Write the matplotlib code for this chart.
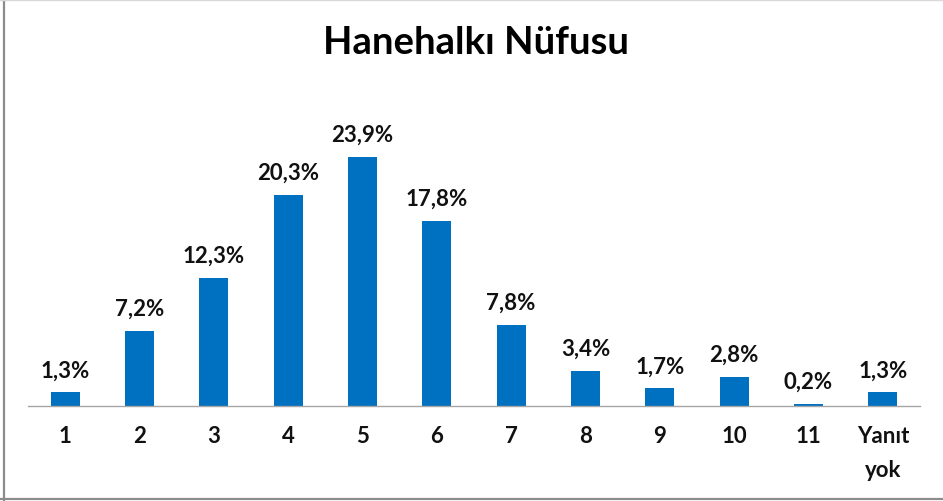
import matplotlib
matplotlib.use('Agg')
import matplotlib.pyplot as plt
from matplotlib.lines import Line2D

# data
categories = ['1', '2', '3', '4', '5', '6', '7', '8', '9', '10', '11', 'Yanıt\nyok']
shares = [1.3, 7.2, 12.3, 20.3, 23.9, 17.8, 7.8, 3.4, 1.7, 2.8, 0.2, 1.3]
labels = ['1,3%', '7,2%', '12,3%', '20,3%', '23,9%', '17,8%', '7,8%', '3,4%',
          '1,7%', '2,8%', '0,2%', '1,3%']
title = 'Hanehalkı Nüfusu'

plt.rcParams['font.family'] = ['Lato', 'DejaVu Sans']

W, H = 943, 502
fig = plt.figure(figsize=(W / 100, H / 100), dpi=100)
ax = fig.add_axes([28 / W, 95 / H, 892 / W, 307 / H])

x = list(range(len(categories)))
ax.bar(x, shares, width=0.39, color='#0070C0')

for xi, v, lab in zip(x, shares, labels):
    ax.annotate(lab, (xi, v), xytext=(0, 11.5), textcoords='offset points',
                ha='center', va='baseline', fontsize=16, fontweight='bold',
                color='#111111')

ax.set_xlim(-0.5, len(categories) - 0.5)
ax.set_ylim(0, 29.47)
ax.set_xticks(x)
ax.set_xticklabels(categories, fontsize=16, fontweight='bold', color='#111111',
                   linespacing=1.75)
ax.tick_params(axis='x', length=0, pad=14)
ax.set_yticks([])
for side in ['top', 'right', 'left']:
    ax.spines[side].set_visible(False)
ax.spines['bottom'].set_color('#a6a6a6')
ax.spines['bottom'].set_linewidth(1.0)

fig.text(476 / W, 1 - 43 / H, title, ha='center', va='center',
         fontsize=27.5, fontweight='bold', color='#000000')

# chart frame (left, bottom, top edges visible in the reference)
fig.add_artist(Line2D([3.5 / W, 3.5 / W], [0, 1], transform=fig.transFigure,
                      color='#8c8c8c', linewidth=1.6))
fig.add_artist(Line2D([0, 1], [2.5 / H, 2.5 / H], transform=fig.transFigure,
                      color='#8c8c8c', linewidth=1.6))
fig.add_artist(Line2D([0, 1], [1 - 0.5 / H, 1 - 0.5 / H], transform=fig.transFigure,
                      color='#d9d9d9', linewidth=1.0))

fig.savefig('out.png', dpi=100)
